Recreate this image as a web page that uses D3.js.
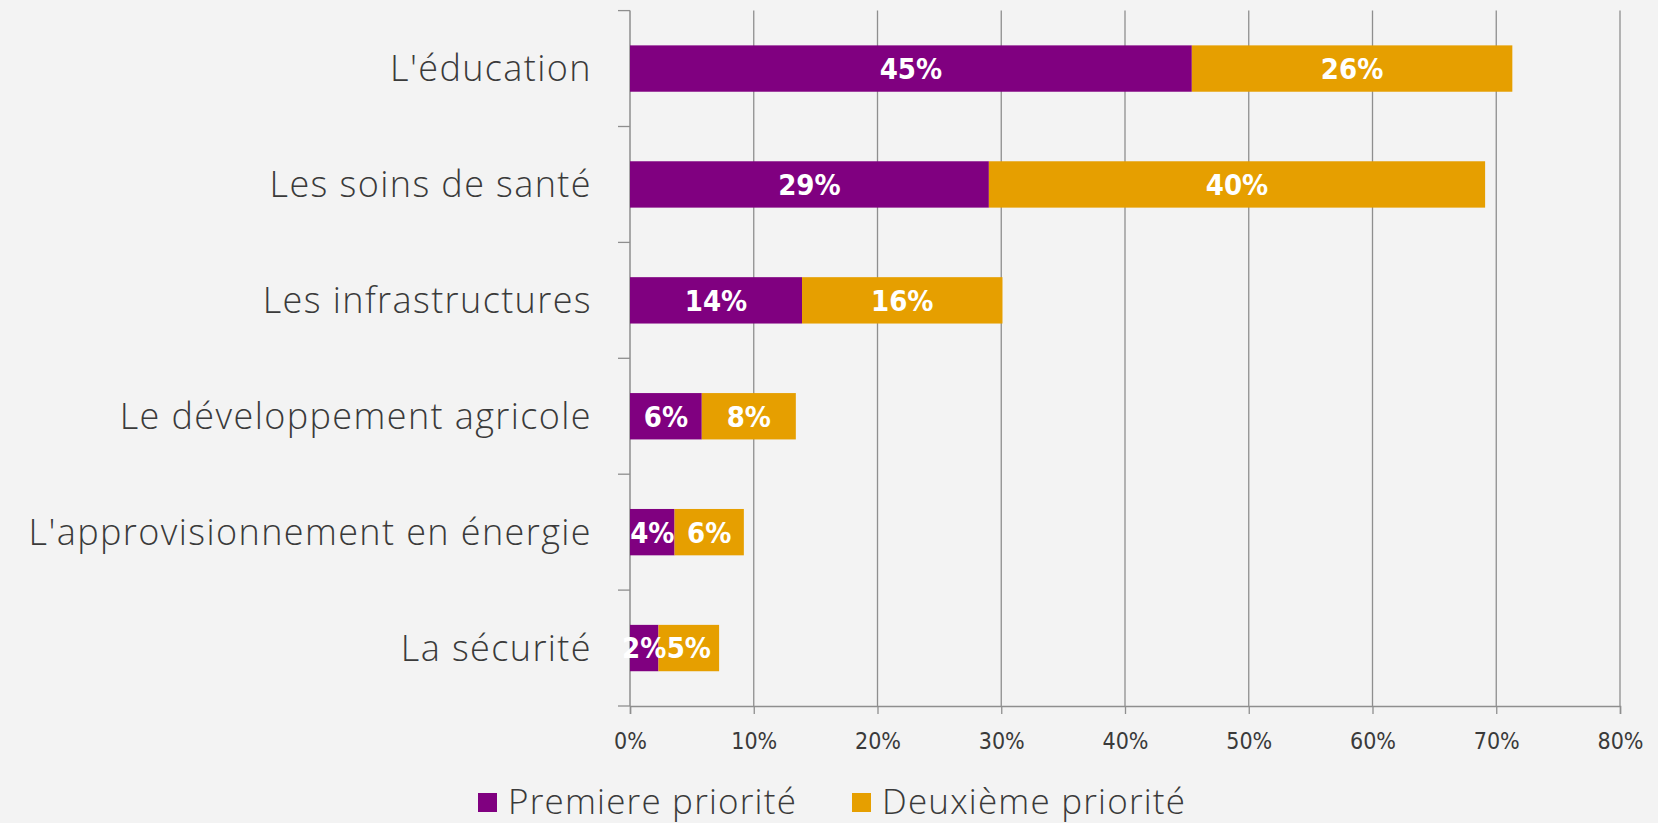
<!DOCTYPE html>
<html>
<head>
<meta charset="utf-8">
<script src="https://cdn.jsdelivr.net/npm/d3@7"></script>
<style>
  html, body { margin: 0; padding: 0; background: #f3f3f3; }
  svg { display: block; }
  .cat { font-family: "Open Sans", "Lato", sans-serif; font-weight: 300; fill: #3a3a3a; }
  .tick-x { font-family: "Liberation Sans Narrow", "DejaVu Sans Condensed", sans-serif; fill: #3a3a3a; }
  .val { font-family: "Liberation Sans Narrow", "DejaVu Sans Condensed", sans-serif; font-weight: bold; fill: #ffffff; }
</style>
</head>
<body>
<div id="chart"></div>
<script>
// Categories, top to bottom
var categories = ["L'éducation", "Les soins de santé", "Les infrastructures",
                  "Le développement agricole", "L'approvisionnement en énergie", "La sécurité"];
// Share of respondents (%)
var premiere  = [45.4, 29.0, 13.9, 5.8, 3.6, 2.3];
var deuxieme  = [25.9, 40.1, 16.2, 7.6, 5.6, 4.9];
var seriesNames = ["Premiere priorité", "Deuxième priorité"];
var seriesColors = ["#800080", "#e69f00"];
var xTicks = [0, 10, 20, 30, 40, 50, 60, 70, 80];

var width = 1658, height = 823;
var plotLeft = 630, plotRight = 1620, plotTop = 10.6, plotBottom = 706;

var svg = d3.select('#chart').append('svg')
    .attr('width', width)
    .attr('height', height);

svg.append('rect').attr('width', width).attr('height', height).attr('fill', '#f3f3f3');

var x = d3.scaleLinear().domain([0, 80]).range([plotLeft, plotRight]);
var y = d3.scaleBand().domain(categories).range([plotTop, plotBottom])
    .paddingInner(0.6).paddingOuter(0.3);

// vertical grid lines
svg.selectAll('line.grid')
    .data(xTicks.slice(1))
    .enter().append('line')
    .attr('class', 'grid')
    .attr('x1', function(d) { return x(d); })
    .attr('x2', function(d) { return x(d); })
    .attr('y1', plotTop).attr('y2', plotBottom)
    .style('stroke', '#8e8e8e').style('stroke-width', 1.3);

// x axis
var xAxis = d3.axisBottom(x).tickValues(xTicks)
    .tickFormat(function(d) { return d + '%'; })
    .tickSize(8).tickPadding(19);
var gx = svg.append('g').attr('transform', 'translate(0,' + plotBottom + ')').call(xAxis);
gx.select('.domain').style('stroke', '#8e8e8e').style('stroke-width', 1.5);
gx.selectAll('.tick line').style('stroke', '#8e8e8e').style('stroke-width', 1.3);
gx.selectAll('.tick text').attr('class', 'tick-x').style('font-size', '23px');

// y axis line and ticks at the boundaries of each category
svg.append('line')
    .attr('x1', plotLeft).attr('x2', plotLeft).attr('y1', plotTop).attr('y2', plotBottom)
    .style('stroke', '#8e8e8e').style('stroke-width', 1.5);
var step = y.step();
svg.selectAll('line.ytick')
    .data(d3.range(categories.length + 1))
    .enter().append('line')
    .attr('class', 'ytick')
    .attr('x1', plotLeft - 12).attr('x2', plotLeft)
    .attr('y1', function(i) { return plotTop + i * step; })
    .attr('y2', function(i) { return plotTop + i * step; })
    .style('stroke', '#8e8e8e').style('stroke-width', 1.3);

// category labels
svg.selectAll('text.cat')
    .data(categories)
    .enter().append('text')
    .attr('class', 'cat')
    .attr('x', plotLeft - 38)
    .attr('y', function(d) { return y(d) + y.bandwidth() / 2; })
    .attr('dy', '0.35em')
    .attr('text-anchor', 'end')
    .style('font-size', '36px')
    .style('letter-spacing', '1.4px')
    .text(function(d) { return d; });

// stacked bars
var segs = [];
categories.forEach(function(c, i) {
    segs.push({ cat: c, s: 0, x0: 0, x1: premiere[i], v: premiere[i] });
    segs.push({ cat: c, s: 1, x0: premiere[i], x1: premiere[i] + deuxieme[i], v: deuxieme[i] });
});

svg.selectAll('rect.bar')
    .data(segs)
    .enter().append('rect')
    .attr('class', 'bar')
    .attr('x', function(d) { return x(d.x0); })
    .attr('width', function(d) { return x(d.x1) - x(d.x0); })
    .attr('y', function(d) { return y(d.cat); })
    .attr('height', y.bandwidth())
    .attr('fill', function(d) { return seriesColors[d.s]; });

svg.selectAll('text.val')
    .data(segs)
    .enter().append('text')
    .attr('class', 'val')
    .attr('x', function(d) { return (x(d.x0) + x(d.x1)) / 2; })
    .attr('y', function(d) { return y(d.cat) + y.bandwidth() / 2; })
    .attr('dy', '0.36em')
    .attr('text-anchor', 'middle')
    .style('font-size', '29px')
    .text(function(d) { return Math.round(d.v) + '%'; });

// legend
var legendX = [478, 852];
var lg = svg.selectAll('g.legend')
    .data(seriesNames)
    .enter().append('g')
    .attr('class', 'legend')
    .attr('transform', function(d, i) { return 'translate(' + legendX[i] + ',802)'; });
lg.append('rect')
    .attr('x', 0).attr('y', -9).attr('width', 19).attr('height', 19)
    .attr('fill', function(d, i) { return seriesColors[i]; });
lg.append('text')
    .attr('class', 'cat')
    .attr('x', 30).attr('y', 0).attr('dy', '0.35em')
    .style('font-size', '35px')
    .style('letter-spacing', '1.2px')
    .text(function(d) { return d; });
</script>
</body>
</html>
